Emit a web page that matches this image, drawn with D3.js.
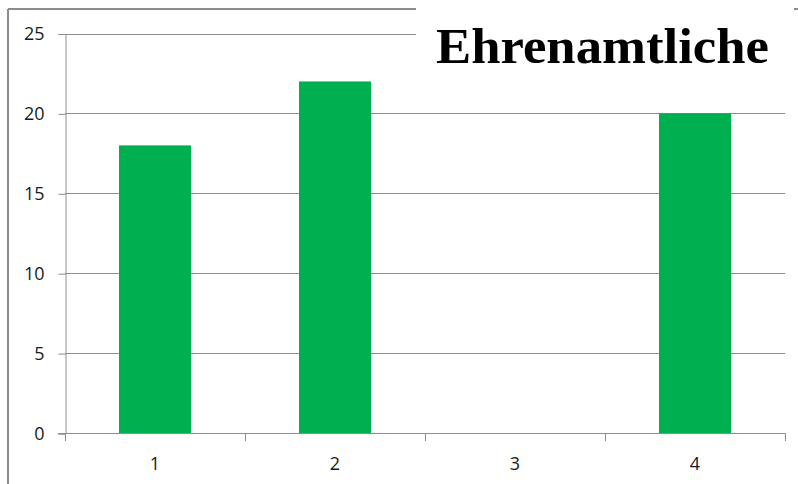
<!DOCTYPE html>
<html><head><meta charset="utf-8">
<script src="https://cdn.jsdelivr.net/npm/d3@7"></script>
<style>body{margin:0;background:#fff}svg{display:block}</style>
</head><body>
<svg id="c" width="798" height="484"></svg>
<script>
const categories = ["1","2","3","4"];
const values = [18, 22, 0, 20];
const yTicks = [0,5,10,15,20,25];
const title = "Ehrenamtliche";

const svg = d3.select("#c");
const W = 798, H = 484;
const m = {left:65, right:13, top:33.5, bottom:51};
const x = d3.scaleBand().domain(categories).range([m.left, W - m.right]).paddingInner(0.6).paddingOuter(0.3);
const y = d3.scaleLinear().domain([0,25]).range([H - m.bottom, m.top]);
const FONT = "'Open Sans', sans-serif";

// frame
svg.append("line").attr("x1",8).attr("x2",8).attr("y1",9).attr("y2",H).attr("stroke","#8c8c8c").attr("stroke-width",2);
svg.append("line").attr("x1",8).attr("x2",W).attr("y1",9).attr("y2",9).attr("stroke","#8c8c8c").attr("stroke-width",2);

// gridlines
svg.append("g").selectAll("line").data(yTicks.filter(d=>d>0)).join("line")
  .attr("x1",m.left).attr("x2",W-m.right)
  .attr("y1",d=>Math.round(y(d))+0.5).attr("y2",d=>Math.round(y(d))+0.5)
  .attr("stroke","#8e8e8e").attr("stroke-width",1);

// bars
svg.append("g").selectAll("rect").data(values).join("rect")
  .attr("x",(d,i)=>x(categories[i])).attr("width",x.bandwidth())
  .attr("y",d=>y(d)).attr("height",d=>y(0)-y(d))
  .attr("fill","#00B050");

// y axis
const yAxis = d3.axisLeft(y).tickValues(yTicks).tickSize(7).tickPadding(14).tickFormat(d3.format("d"));
const gy = svg.append("g").attr("transform",`translate(${m.left+0.5},0.5)`)
  .call(yAxis).attr("font-size",18).attr("font-family",FONT);
gy.selectAll("text").attr("fill","#1a1a1a");
gy.select(".domain").attr("stroke","#8e8e8e");
gy.selectAll(".tick line").attr("stroke","#8e8e8e");

// x axis
const step = x.step();
const bounds = [0,1,2,3,4].map(i => m.left + i*step);
const gx = svg.append("g");
gx.append("line").attr("x1",m.left-7).attr("x2",W-m.right+0.5).attr("y1",y(0)+0.5).attr("y2",y(0)+0.5).attr("stroke","#8e8e8e");
gx.selectAll("line.t").data(bounds).join("line").attr("class","t")
  .attr("x1",d=>Math.round(d)+0.5).attr("x2",d=>Math.round(d)+0.5)
  .attr("y1",y(0)).attr("y2",y(0)+8).attr("stroke","#8e8e8e");
gx.selectAll("text").data(categories).join("text")
  .attr("x",d=>x(d)+x.bandwidth()/2).attr("y",y(0)+37)
  .attr("text-anchor","middle").attr("font-family",FONT).attr("font-size",18).attr("fill","#1a1a1a")
  .text(d=>d);

// title box
svg.append("rect").attr("x",416).attr("y",0).attr("width",378).attr("height",92).attr("fill","#fff");
svg.append("text").attr("x",436).attr("y",63)
  .attr("font-family","'Liberation Serif', serif").attr("font-weight","bold").attr("font-size",50).attr("fill","#000")
  .attr("textLength",333).attr("lengthAdjust","spacingAndGlyphs")
  .text(title);
</script>
</body></html>
